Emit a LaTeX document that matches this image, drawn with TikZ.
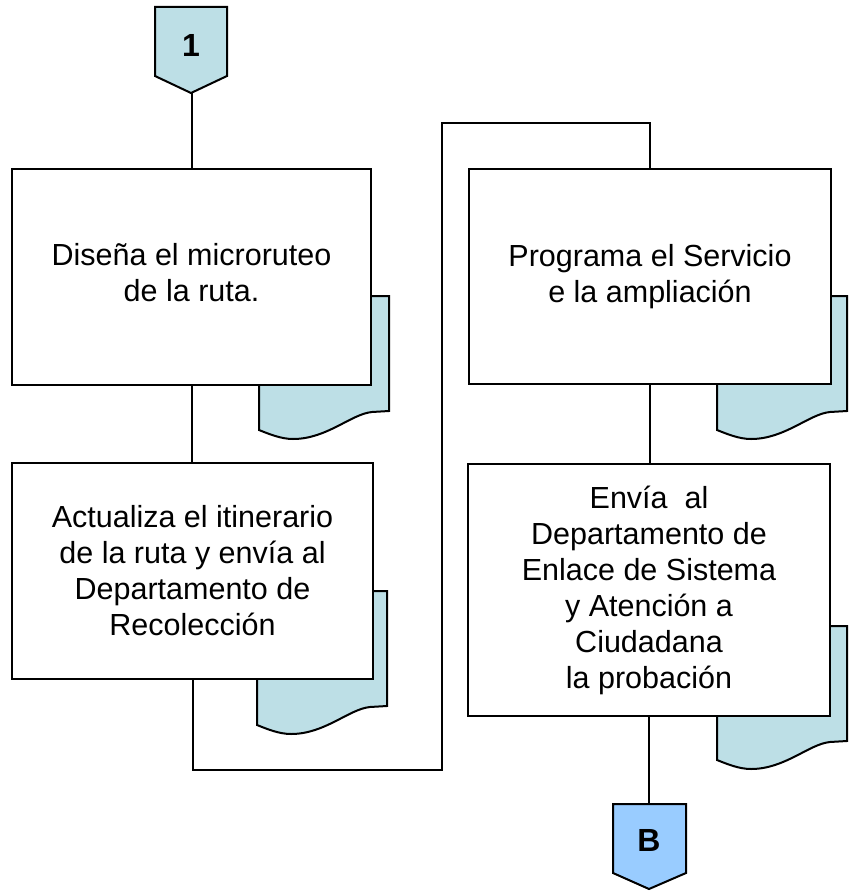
\documentclass[tikz,border=0pt]{standalone}
\usepackage{fontspec}
\setmainfont{Liberation Sans}
\definecolor{docblue}{RGB}{189,223,230}
\definecolor{connB}{RGB}{153,204,255}
\tikzset{
  x=1pt, y=-1pt,
  every path/.style={line width=2pt, line join=miter},
  procbox/.style={draw=black, fill=white, rectangle, align=center, inner sep=4pt,
    font=\fontsize{30.5}{36}\selectfont},
  conntext/.style={font=\fontsize{32}{36}\selectfont\bfseries, inner sep=0pt},
  conn/.style={draw=black},
  docshape/.pic={
    \draw[fill=docblue] (0,0) -- (130,0) -- (130,115) -- (113,116)
      .. controls (92,118) and (68,143) .. (34,143)
      .. controls (22,143) and (10,138) .. (0,134) -- cycle;
  }
}
\begin{document}
\begin{tikzpicture}
\useasboundingbox (0,0) rectangle (850,891);
% documents (behind boxes)
\pic at (259,296) {docshape};
\pic at (257,591) {docshape};
\pic at (717,296) {docshape};
\pic at (717,626) {docshape};
% process boxes
\node[procbox, minimum width=359pt, minimum height=216pt, text depth=10pt] (b1) at (191.5,277)
  {Diseña el microruteo\\de la ruta.};
\node[procbox, minimum width=361pt, minimum height=216pt] (b2) at (192.5,571)
  {Actualiza el itinerario\\de la ruta y envía al\\Departamento de\\Recolección};
\node[procbox, minimum width=362pt, minimum height=215pt] (b3) at (650,276.5)
  {Programa el Servicio\\e la ampliación};
\node[procbox, minimum width=362pt, minimum height=252pt] (b4) at (649,590)
  {Envía\ \ al\\Departamento de\\Enlace de Sistema\\y Atención a\\Ciudadana\\la probación};
% off-page connectors
\draw[conn, fill=docblue] (155,7) -- (227,7) -- (227,76) -- (191,93) -- (155,76) -- cycle;
\node[conntext] (c1) at (191,45) {1};
\coordinate (c1tip) at (191.5,93);
\draw[conn, fill=connB] (613,804) -- (686,804) -- (686,873) -- (649,889) -- (613,873) -- cycle;
\node[conntext] (cB) at (649,840) {B};
\coordinate (cBtop) at (649,804);
% connectors
\coordinate (lowright) at (442,770);
\coordinate (topleft) at (442,123);
\draw (c1tip) -- (b1.north);
\draw (b1.south) -- (b1.south |- b2.north);
\draw (b2.south) |- (lowright) -- (topleft) -| (b3.north);
\draw (b3.south) -- (b3.south |- b4.north);
\draw (b4.south) -- (cBtop);
\end{tikzpicture}
\end{document}
